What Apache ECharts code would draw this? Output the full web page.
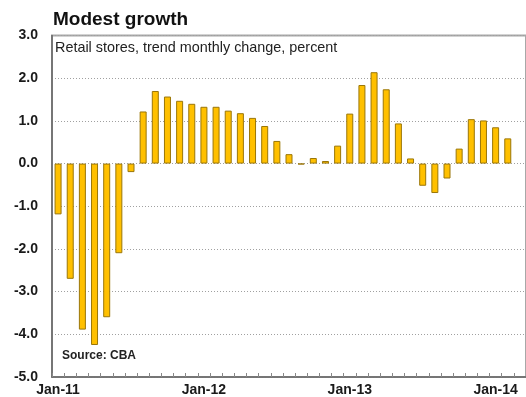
<!DOCTYPE html>
<html>
<head>
<meta charset="utf-8">
<script src="https://cdn.jsdelivr.net/npm/echarts@6/dist/echarts.min.js"></script>
<style>
  html, body { margin: 0; padding: 0; background: #fff; }
  #chart { width: 526px; height: 397px; }
</style>
</head>
<body>
<div id="chart"></div>
<script>
// Monthly categories, Jan-11 to Mar-14 (last slot has no reading yet)
const months = [
  'Jan-11','Feb-11','Mar-11','Apr-11','May-11','Jun-11','Jul-11','Aug-11','Sep-11','Oct-11','Nov-11','Dec-11',
  'Jan-12','Feb-12','Mar-12','Apr-12','May-12','Jun-12','Jul-12','Aug-12','Sep-12','Oct-12','Nov-12','Dec-12',
  'Jan-13','Feb-13','Mar-13','Apr-13','May-13','Jun-13','Jul-13','Aug-13','Sep-13','Oct-13','Nov-13','Dec-13',
  'Jan-14','Feb-14','Mar-14'
];

// Retail stores, trend monthly change (%)
const retailChange = [
  -1.19, -2.70, -3.89, -4.25, -3.60, -2.10, -0.20, 1.22, 1.70, 1.57, 1.47, 1.40,
  1.33, 1.33, 1.24, 1.18, 1.07, 0.88, 0.53, 0.22, -0.02, 0.13, 0.06, 0.42,
  1.17, 1.84, 2.14, 1.74, 0.94, 0.12, -0.52, -0.69, -0.35, 0.35, 1.04, 1.01,
  0.85, 0.59, null
];

// Value axis range and step
const yMin = -5;
const yMax = 3;
const yStep = 1;

const titleText = 'Modest growth';
const subtitleText = 'Retail stores, trend monthly change, percent';
const sourceText = 'Source: CBA';

const FONT = '"Liberation Sans", Arial, Helvetica, sans-serif';

const chart = echarts.init(document.getElementById('chart'), null, { renderer: 'canvas' });

chart.setOption({
  animation: false,
  backgroundColor: '#ffffff',
  title: {
    text: titleText,
    left: 53,
    top: 10,
    padding: 0,
    textStyle: { fontFamily: FONT, fontSize: 19, fontWeight: 'bold', color: '#111' }
  },
  grid: {
    left: 52,
    right: 0,
    top: 35.5,
    bottom: 20,
    show: true,
    borderColor: '#a8a8a8',
    borderWidth: 2,
    backgroundColor: 'transparent'
  },
  xAxis: {
    type: 'category',
    data: months,
    boundaryGap: true,
    axisLine: { show: true, onZero: false, lineStyle: { color: '#666', width: 1.5 } },
    axisTick: { show: true, inside: true, length: 4, interval: 0, lineStyle: { color: '#888' } },
    axisLabel: {
      interval: 11,
      margin: 6,
      fontFamily: FONT,
      fontSize: 14,
      fontWeight: 'bold',
      color: '#1a1a1a'
    },
    splitLine: { show: false }
  },
  yAxis: {
    type: 'value',
    min: yMin,
    max: yMax,
    interval: yStep,
    axisLine: { show: true, lineStyle: { color: '#666', width: 1.5 } },
    axisTick: { show: false },
    axisLabel: {
      margin: 14,
      fontFamily: FONT,
      fontSize: 14,
      fontWeight: 'bold',
      color: '#1a1a1a',
      formatter: v => v.toFixed(1)
    },
    splitLine: { show: true, lineStyle: { color: '#a0a0a0', type: [1, 2], width: 1 } }
  },
  graphic: [
    {
      type: 'text',
      left: 55,
      top: 41,
      style: { text: subtitleText, fontFamily: FONT, fontSize: 14.4, fill: '#222' }
    },
    {
      type: 'text',
      left: 62,
      top: 350,
      style: { text: sourceText, fontFamily: FONT, fontSize: 12, fontWeight: 'bold', fill: '#222' }
    }
  ],
  series: [
    {
      type: 'bar',
      data: retailChange,
      barWidth: 7,
      itemStyle: { color: '#FFC000', borderColor: '#9a7608', borderWidth: 1 }
    }
  ]
});
</script>
</body>
</html>
